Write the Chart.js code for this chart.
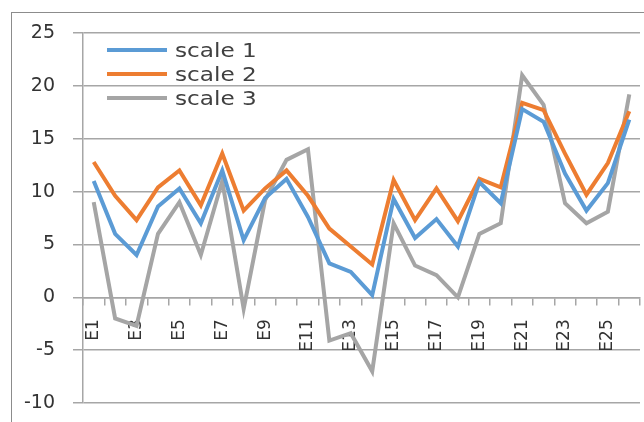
<!DOCTYPE html>
<html>
<head>
<meta charset="utf-8">
<script src="https://cdn.jsdelivr.net/npm/chart.js@4.4.1/dist/chart.umd.min.js"></script>
<style>
  html, body { margin: 0; padding: 0; background: #ffffff; }
  #wrap { position: relative; width: 644px; height: 422px; overflow: hidden; }
  #frame { position: absolute; left: 11px; top: 12px; width: 640px; height: 420px;
           border-top: 1px solid #8c8c8c; border-left: 1px solid #8c8c8c; }
  #chart { position: absolute; left: 0; top: 0; }
  #legend { position: absolute; left: 107px; top: 38px; font-family: "DejaVu Sans", sans-serif;
            font-size: 19px; color: #404040; }
  .row { height: 24px; display: flex; align-items: center; }
  .swatch { width: 60px; height: 4px; margin-right: 8px; }
  .txt { display: inline-block; transform: scaleX(1.22); transform-origin: left center; line-height: 24px; }
</style>
</head>
<body>
<div id="wrap">
  <div id="frame"></div>
  <canvas id="chart" width="644" height="422"></canvas>
  <div id="legend"></div>
</div>
<script>
// Categories and series values
const categories = ["E1","E2","E3","E4","E5","E6","E7","E8","E9","E10","E11","E12","E13",
                    "E14","E15","E16","E17","E18","E19","E20","E21","E22","E23","E24","E25","E26"];
const scale1 = [11.0, 6.0, 4.0, 8.6, 10.3, 7.0, 12.0, 5.4, 9.4, 11.2, 7.6, 3.2, 2.4,
                0.2, 9.3, 5.6, 7.4, 4.8, 10.9, 8.9, 17.8, 16.6, 11.7, 8.2, 10.8, 16.8];
const scale2 = [12.8, 9.6, 7.3, 10.4, 12.0, 8.7, 13.6, 8.2, 10.3, 12.0, 9.6, 6.5, 4.8,
                3.1, 11.1, 7.3, 10.3, 7.2, 11.2, 10.4, 18.4, 17.7, 13.6, 9.7, 12.7, 17.6];
const scale3 = [9.0, -2.0, -2.7, 6.0, 9.0, 4.0, 11.0, -1.1, 9.2, 13.0, 14.0, -4.1, -3.4,
                -7.0, 7.0, 3.0, 2.1, 0.0, 6.0, 7.0, 21.0, 18.2, 8.9, 7.0, 8.1, 19.2];
const seriesNames = ["scale 1", "scale 2", "scale 3"];
const yTicks = [-10, -5, 0, 5, 10, 15, 20, 25];

const colors = ["#5b9bd5", "#ed7d31", "#a5a5a5"];
const gridColor = "#a6a6a6";
const textColor = "#333333";

const datasets = [scale1, scale2, scale3].map((vals, i) => ({
  label: seriesNames[i],
  data: vals,
  borderColor: colors[i],
  backgroundColor: colors[i],
  borderWidth: 4,
  pointRadius: 0,
  tension: 0,
  fill: false
}));

new Chart(document.getElementById("chart"), {
  type: "line",
  data: { labels: categories, datasets },
  options: {
    responsive: false,
    animation: false,
    events: [],
    layout: { padding: { top: 33, right: 4, bottom: 19, left: 11 } },
    plugins: { legend: { display: false }, tooltip: { enabled: false } },
    scales: {
      x: {
        type: "category",
        offset: true,
        position: { y: 0 },
        afterFit: (s) => { s.paddingLeft = 0; s.paddingRight = 0; },
        border: { display: true, color: gridColor, width: 1.5 },
        grid: { offset: true, drawOnChartArea: false, drawTicks: true, tickLength: 7,
                color: gridColor, lineWidth: 1.5 },
        ticks: {
          autoSkip: false, maxRotation: 90, minRotation: 90, padding: 15,
          color: textColor,
          font: { family: "DejaVu Sans", size: 17 },
          callback: (v, i) => (i % 2 === 0 ? categories[i] : "")
        }
      },
      y: {
        min: yTicks[0],
        max: yTicks[yTicks.length - 1],
        afterFit: (s) => { s.width = 72; s.paddingTop = 0; s.paddingBottom = 0; },
        afterBuildTicks: (s) => { s.ticks = yTicks.map(v => ({ value: v })); },
        border: { display: true, color: gridColor, width: 1.5 },
        grid: { color: gridColor, lineWidth: 1.5, tickLength: 10 },
        ticks: {
          padding: 18, color: textColor,
          font: { family: "DejaVu Sans", size: 19 }
        }
      }
    }
  }
});

// Legend inside the plot, top left
const legend = document.getElementById("legend");
seriesNames.forEach((name, i) => {
  const row = document.createElement("div");
  row.className = "row";
  const sw = document.createElement("div");
  sw.className = "swatch";
  sw.style.background = colors[i];
  const t = document.createElement("span");
  t.className = "txt";
  t.textContent = name;
  row.appendChild(sw);
  row.appendChild(t);
  legend.appendChild(row);
});
</script>
</body>
</html>
